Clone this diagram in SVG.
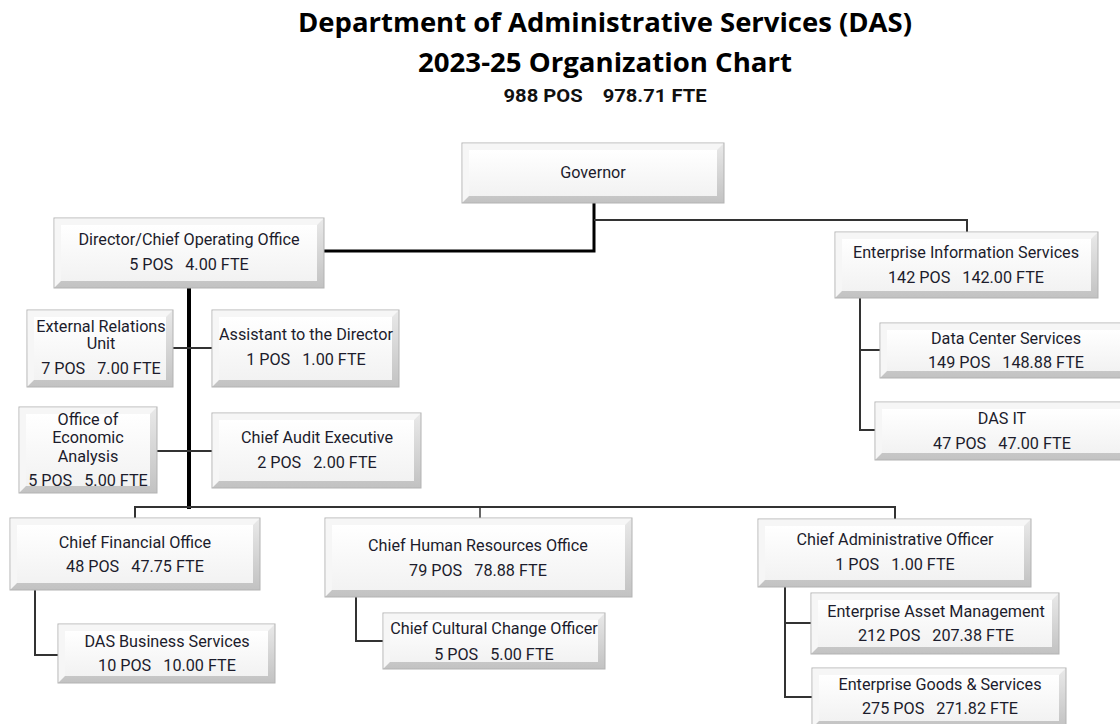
<svg xmlns="http://www.w3.org/2000/svg" width="1120" height="724" viewBox="0 0 1120 724">
  <defs>
    <linearGradient id="rim" x1="0" y1="0" x2="0" y2="1">
      <stop offset="0" stop-color="#e9e9e9"/>
      <stop offset="1" stop-color="#c2c2c2"/>
    </linearGradient>
    <linearGradient id="face" x1="0" y1="0" x2="0" y2="1">
      <stop offset="0" stop-color="#ffffff"/>
      <stop offset="1" stop-color="#f2f2f2"/>
    </linearGradient>
    <style>
      .rim { fill: url(#rim); stroke: #b3b3b3; stroke-width: 1; }
      .lit { fill: #f6f6f6; }
      .face { fill: url(#face); }
      .lbl { font-family: Roboto, "Liberation Sans", sans-serif; font-size: 16.2px; fill: #1c1c2c; text-anchor: middle; white-space: pre; }
      .title { font-family: "Open Sans", "Liberation Sans", sans-serif; font-weight: bold; font-size: 27px; fill: #000; text-anchor: middle; }
      .totals { font-family: Roboto, "Liberation Sans", sans-serif; font-weight: bold; font-size: 19px; fill: #111; text-anchor: middle; white-space: pre; }
      .main { stroke: #000; stroke-width: 3; fill: none; }
      .trunk { stroke: #000; stroke-width: 4; fill: none; }
      .sub { stroke: #333; stroke-width: 2; fill: none; }
      .thin { stroke: #333; stroke-width: 1.5; fill: none; }
    </style>
  </defs>

  <rect width="1120" height="724" fill="#ffffff"/>

  <!-- heading -->
  <g id="heading">
    <text class="title" x="605" y="32" textLength="614" lengthAdjust="spacingAndGlyphs">Department of Administrative Services (DAS)</text>
    <text class="title" x="605" y="72" textLength="374" lengthAdjust="spacingAndGlyphs">2023-25 Organization Chart</text>
    <text class="totals" x="605" y="102" textLength="203" lengthAdjust="spacingAndGlyphs">988 POS    978.71 FTE</text>
  </g>

  <!-- reporting lines -->
  <g id="connectors">
    <polyline class="main" points="594,203 594,251 324,251"/>
    <polyline class="sub" points="594,220 967,220 967,232"/>
    <polyline class="sub" points="860,298 860,430 875,430"/>
    <line class="sub" x1="860" y1="350" x2="880" y2="350"/>
    <line class="trunk" x1="189" y1="288" x2="189" y2="509"/>
    <line class="sub" x1="173" y1="348" x2="212" y2="348"/>
    <line class="sub" x1="157" y1="451" x2="212" y2="451"/>
    <polyline class="sub" points="135,518 135,507 895,507 895,519"/>
    <line class="thin" x1="480" y1="507" x2="480" y2="518"/>
    <polyline class="sub" points="35,590 35,655 58,655"/>
    <polyline class="sub" points="356,597 356,641 383,641"/>
    <polyline class="sub" points="785,587 785,697 812,697"/>
    <line class="sub" x1="785" y1="623" x2="811" y2="623"/>
  </g>

  <!-- units -->
  <g id="governor">
    <rect class="rim" x="462" y="143" width="262" height="60"/>
    <polygon class="lit" points="462.5,143.5 723.5,143.5 717,150 469,150 469,196 462.5,202.5"/>
    <rect class="face" x="469" y="150" width="248" height="46"/>
    <text class="lbl" x="593" y="178">Governor</text>
  </g>

  <g id="director">
    <rect class="rim" x="54" y="218" width="270" height="70"/>
    <polygon class="lit" points="54.5,218.5 323.5,218.5 317,225 61,225 61,281 54.5,287.5"/>
    <rect class="face" x="61" y="225" width="256" height="56"/>
    <text class="lbl" x="189" y="245">Director/Chief Operating Office</text>
    <text class="lbl" x="189" y="270">5 POS   4.00 FTE</text>
  </g>

  <g id="enterprise-info">
    <rect class="rim" x="835" y="232" width="263" height="66"/>
    <polygon class="lit" points="835.5,232.5 1097.5,232.5 1091,239 842,239 842,291 835.5,297.5"/>
    <rect class="face" x="842" y="239" width="249" height="52"/>
    <text class="lbl" x="966" y="258">Enterprise Information Services</text>
    <text class="lbl" x="966" y="283">142 POS   142.00 FTE</text>
  </g>

  <g id="data-center">
    <rect class="rim" x="880" y="323" width="252" height="55"/>
    <polygon class="lit" points="880.5,323.5 1131.5,323.5 1125,330 887,330 887,371 880.5,377.5"/>
    <rect class="face" x="887" y="330" width="238" height="41"/>
    <text class="lbl" x="1006" y="344">Data Center Services</text>
    <text class="lbl" x="1006" y="368">149 POS   148.88 FTE</text>
  </g>

  <g id="das-it">
    <rect class="rim" x="875" y="402" width="257" height="58"/>
    <polygon class="lit" points="875.5,402.5 1131.5,402.5 1125,409 882,409 882,453 875.5,459.5"/>
    <rect class="face" x="882" y="409" width="243" height="44"/>
    <text class="lbl" x="1002" y="424">DAS IT</text>
    <text class="lbl" x="1002" y="449">47 POS   47.00 FTE</text>
  </g>

  <g id="external-relations">
    <rect class="rim" x="27" y="310" width="146" height="77"/>
    <polygon class="lit" points="27.5,310.5 172.5,310.5 166,317 34,317 34,380 27.5,386.5"/>
    <rect class="face" x="34" y="317" width="132" height="63"/>
    <text class="lbl" x="101" y="332">External Relations</text>
    <text class="lbl" x="101" y="349">Unit</text>
    <text class="lbl" x="101" y="374">7 POS   7.00 FTE</text>
  </g>

  <g id="assistant">
    <rect class="rim" x="212" y="310" width="187" height="77"/>
    <polygon class="lit" points="212.5,310.5 398.5,310.5 392,317 219,317 219,380 212.5,386.5"/>
    <rect class="face" x="219" y="317" width="173" height="63"/>
    <text class="lbl" x="306" y="340">Assistant to the Director</text>
    <text class="lbl" x="306" y="365">1 POS   1.00 FTE</text>
  </g>

  <g id="economic-analysis">
    <rect class="rim" x="19" y="407" width="138" height="86"/>
    <polygon class="lit" points="19.5,407.5 156.5,407.5 150,414 26,414 26,486 19.5,492.5"/>
    <rect class="face" x="26" y="414" width="124" height="72"/>
    <text class="lbl" x="88" y="425">Office of</text>
    <text class="lbl" x="88" y="443">Economic</text>
    <text class="lbl" x="88" y="462">Analysis</text>
    <text class="lbl" x="88" y="486">5 POS   5.00 FTE</text>
  </g>

  <g id="audit">
    <rect class="rim" x="212" y="413" width="209" height="75"/>
    <polygon class="lit" points="212.5,413.5 420.5,413.5 414,420 219,420 219,481 212.5,487.5"/>
    <rect class="face" x="219" y="420" width="195" height="61"/>
    <text class="lbl" x="317" y="443">Chief Audit Executive</text>
    <text class="lbl" x="317" y="468">2 POS   2.00 FTE</text>
  </g>

  <g id="financial">
    <rect class="rim" x="10" y="518" width="250" height="72"/>
    <polygon class="lit" points="10.5,518.5 259.5,518.5 253,525 17,525 17,583 10.5,589.5"/>
    <rect class="face" x="17" y="525" width="236" height="58"/>
    <text class="lbl" x="135" y="548">Chief Financial Office</text>
    <text class="lbl" x="135" y="572">48 POS   47.75 FTE</text>
  </g>

  <g id="human-resources">
    <rect class="rim" x="325" y="518" width="307" height="79"/>
    <polygon class="lit" points="325.5,518.5 631.5,518.5 625,525 332,525 332,590 325.5,596.5"/>
    <rect class="face" x="332" y="525" width="293" height="65"/>
    <text class="lbl" x="478" y="551">Chief Human Resources Office</text>
    <text class="lbl" x="478" y="576">79 POS   78.88 FTE</text>
  </g>

  <g id="administrative">
    <rect class="rim" x="758" y="519" width="273" height="68"/>
    <polygon class="lit" points="758.5,519.5 1030.5,519.5 1024,526 765,526 765,580 758.5,586.5"/>
    <rect class="face" x="765" y="526" width="259" height="54"/>
    <text class="lbl" x="895" y="545">Chief Administrative Officer</text>
    <text class="lbl" x="895" y="570">1 POS   1.00 FTE</text>
  </g>

  <g id="business-services">
    <rect class="rim" x="58" y="624" width="217" height="59"/>
    <polygon class="lit" points="58.5,624.5 274.5,624.5 268,631 65,631 65,676 58.5,682.5"/>
    <rect class="face" x="65" y="631" width="203" height="45"/>
    <text class="lbl" x="167" y="647">DAS Business Services</text>
    <text class="lbl" x="167" y="671">10 POS   10.00 FTE</text>
  </g>

  <g id="cultural-change">
    <rect class="rim" x="383" y="613" width="222" height="56"/>
    <polygon class="lit" points="383.5,613.5 604.5,613.5 598,620 390,620 390,662 383.5,668.5"/>
    <rect class="face" x="390" y="620" width="208" height="42"/>
    <text class="lbl" x="494" y="634">Chief Cultural Change Officer</text>
    <text class="lbl" x="494" y="660">5 POS   5.00 FTE</text>
  </g>

  <g id="asset-management">
    <rect class="rim" x="811" y="593" width="248" height="61"/>
    <polygon class="lit" points="811.5,593.5 1058.5,593.5 1052,600 818,600 818,647 811.5,653.5"/>
    <rect class="face" x="818" y="600" width="234" height="47"/>
    <text class="lbl" x="936" y="617">Enterprise Asset Management</text>
    <text class="lbl" x="936" y="641">212 POS   207.38 FTE</text>
  </g>

  <g id="goods-services">
    <rect class="rim" x="812" y="668" width="254" height="60"/>
    <polygon class="lit" points="812.5,668.5 1065.5,668.5 1059,675 819,675 819,721 812.5,727.5"/>
    <rect class="face" x="819" y="675" width="240" height="46"/>
    <text class="lbl" x="940" y="690">Enterprise Goods &amp; Services</text>
    <text class="lbl" x="940" y="714">275 POS   271.82 FTE</text>
  </g>
</svg>
